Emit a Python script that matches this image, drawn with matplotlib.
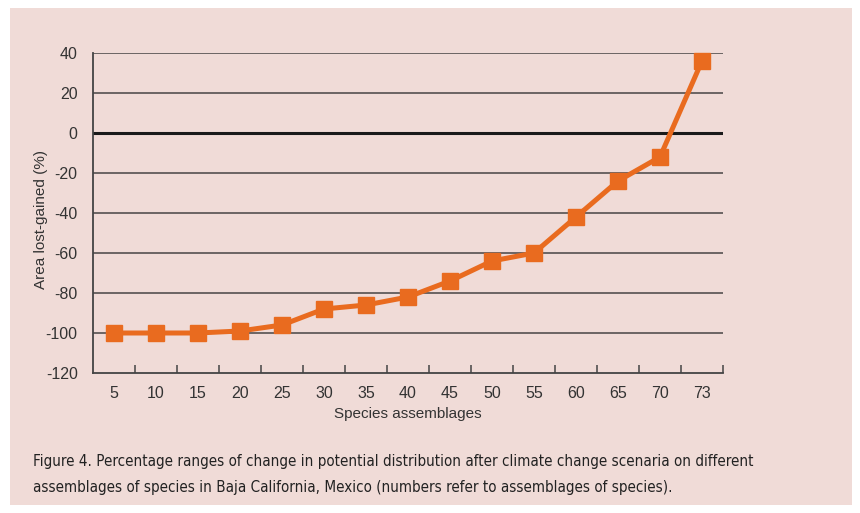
import matplotlib.pyplot as plt
from matplotlib.patches import Rectangle

# species assemblages and area lost/gained (%)
assemblages = ['5', '10', '15', '20', '25', '30', '35', '40', '45', '50',
               '55', '60', '65', '70', '73']
area_change = [-100, -100, -100, -99, -96, -88, -86, -82, -74, -64,
               -60, -42, -24, -12, 36]
y_ticks = [40, 20, 0, -20, -40, -60, -80, -100, -120]

caption = ('Figure 4. Percentage ranges of change in potential distribution after climate change scenaria on different\n'
           'assemblages of species in Baja California, Mexico (numbers refer to assemblages of species).')

pink = '#F0DBD7'
orange = '#E96B1F'

plt.rcParams['font.family'] = ['Liberation Sans', 'DejaVu Sans']

fig = plt.figure(figsize=(8.6, 5.13), dpi=100, facecolor='white')
fig.patches.append(Rectangle((10 / 860, 8 / 513), 842 / 860, 497 / 513,
                             transform=fig.transFigure, facecolor=pink,
                             edgecolor='none', zorder=-5))

ax = fig.add_axes([93 / 860, 1 - 373 / 513, 630 / 860, 320 / 513])
ax.patch.set_alpha(0)

x = list(range(len(assemblages)))
for yv in y_ticks:
    if yv == 0:
        ax.axhline(yv, color='#1a1a1a', lw=2.2, zorder=1)
    elif yv != -120:
        ax.axhline(yv, color='#555050', lw=1.2, zorder=1)

ax.plot(x, area_change, color=orange, lw=3.6, marker='s', markersize=12,
        zorder=3, clip_on=False)

ax.set_xlim(-0.5, len(assemblages) - 0.5)
ax.set_ylim(-120, 40)
ax.set_yticks(y_ticks)
ax.set_yticklabels([str(v) for v in y_ticks])
ax.tick_params(axis='y', length=0, pad=11, labelsize=11.5, labelcolor='#333333')

ax.set_xticks(x)
ax.set_xticklabels(assemblages)
ax.set_xticks([i + 0.5 for i in x], minor=True)
ax.tick_params(axis='x', which='major', length=0, pad=9, labelsize=11.5,
               labelcolor='#333333')
ax.tick_params(axis='x', which='minor', direction='in', length=6,
               width=1.1, color='#444444')

for s in ['top', 'right']:
    ax.spines[s].set_visible(False)
for s in ['left', 'bottom']:
    ax.spines[s].set_color('#444444')
    ax.spines[s].set_linewidth(1.3)

ax.set_xlabel('Species assemblages', fontsize=11, color='#333333', labelpad=5)
ax.set_ylabel('Area lost-gained (%)', fontsize=11, color='#333333')
ax.yaxis.set_label_coords(-0.072, 0.48)

fig.text(33 / 860, 1 - 454 / 513, caption, fontsize=10.9, va='top', ha='left',
         color='#222222', linespacing=1.9,
         family='DejaVu Sans', stretch='condensed')

fig.savefig('out.png', dpi=100, facecolor='white')
